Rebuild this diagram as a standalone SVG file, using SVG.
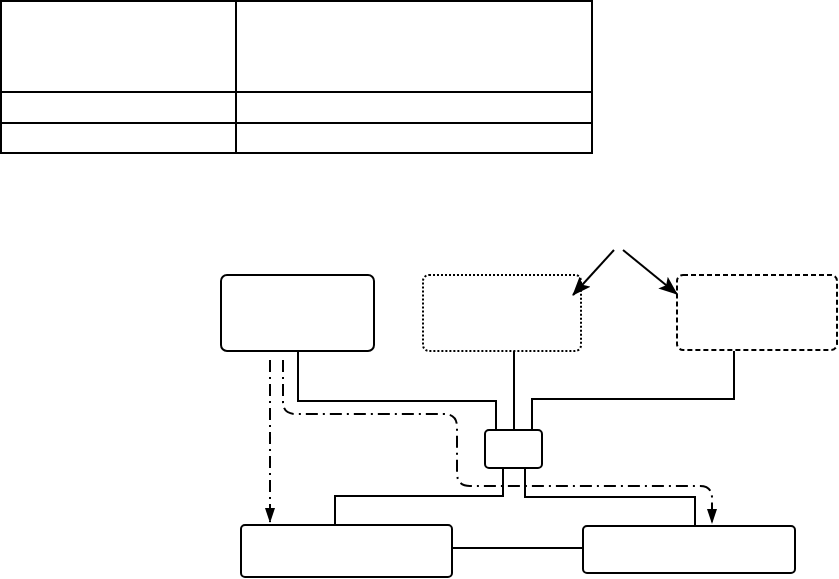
<svg xmlns="http://www.w3.org/2000/svg" width="839" height="579" viewBox="0 0 839 579">
<style>
.ln{fill:none;stroke:#000;stroke-width:2}
.box{fill:#fff;stroke:#000;stroke-width:2}
.dot{stroke-dasharray:2 2}
.dash{stroke-dasharray:5 3}
.dd{fill:none;stroke:#000;stroke-width:2;stroke-dasharray:12 5 2 5}
</style>
<defs>
<marker id="ah" markerWidth="15" markerHeight="11" refX="14" refY="5.5" orient="auto" markerUnits="userSpaceOnUse" viewBox="0 0 15 11"><path d="M0,0.5 L15,5.5 L0,10.5 Z" fill="#000"/></marker>
<marker id="ah2" markerWidth="19" markerHeight="15" refX="18" refY="7.5" orient="auto" markerUnits="userSpaceOnUse" viewBox="0 0 19 15"><path d="M0,0 L19,7.5 L0,15 L4,7.5 Z" fill="#000"/></marker>
</defs>
<g id="table">
<rect class="ln" x="1" y="1" width="591" height="152"/>
<line class="ln" x1="236" y1="1" x2="236" y2="153"/>
<line class="ln" x1="1" y1="92" x2="592" y2="92"/>
<line class="ln" x1="1" y1="123" x2="592" y2="123"/>
</g>
<g id="nodeA"><rect class="box" x="221" y="275" width="153" height="76" rx="6"/></g>
<g id="nodeB"><rect class="box dot" x="423" y="275" width="158" height="76" rx="6"/></g>
<g id="nodeC"><rect class="box dash" x="677" y="275" width="160" height="75" rx="6"/></g>
<g id="nodeD"><rect class="box" x="485" y="430" width="57" height="38" rx="4"/></g>
<g id="nodeE"><rect class="box" x="241" y="525" width="211" height="52" rx="4"/></g>
<g id="nodeF"><rect class="box" x="583" y="526" width="212" height="47" rx="4"/></g>
<g id="connectors">
<polyline class="ln" points="298,352 298,401 496,401 496,430"/>
<polyline class="ln" points="514,351 514,430"/>
<polyline class="ln" points="734,351 734,399 532,399 532,430"/>
<polyline class="ln" points="503,469 503,496 335,496 335,524"/>
<polyline class="ln" points="525,469 525,497 695,497 695,525"/>
<line class="ln" x1="453" y1="548" x2="582" y2="548"/>
<line class="ln" x1="614" y1="250" x2="573" y2="295" marker-end="url(#ah2)"/>
<line class="ln" x1="623" y1="250" x2="677" y2="294" marker-end="url(#ah2)"/>
<line class="dd" x1="270" y1="360" x2="270" y2="522" marker-end="url(#ah)"/>
<path class="dd" d="M283,360 L283,402 Q283,414 296,414 L444,414 Q457,414 457,427 L457,473 Q457,486 470,486 L700,486 Q712,486 712,498 L712,523" marker-end="url(#ah)"/>
</g>
</svg>
